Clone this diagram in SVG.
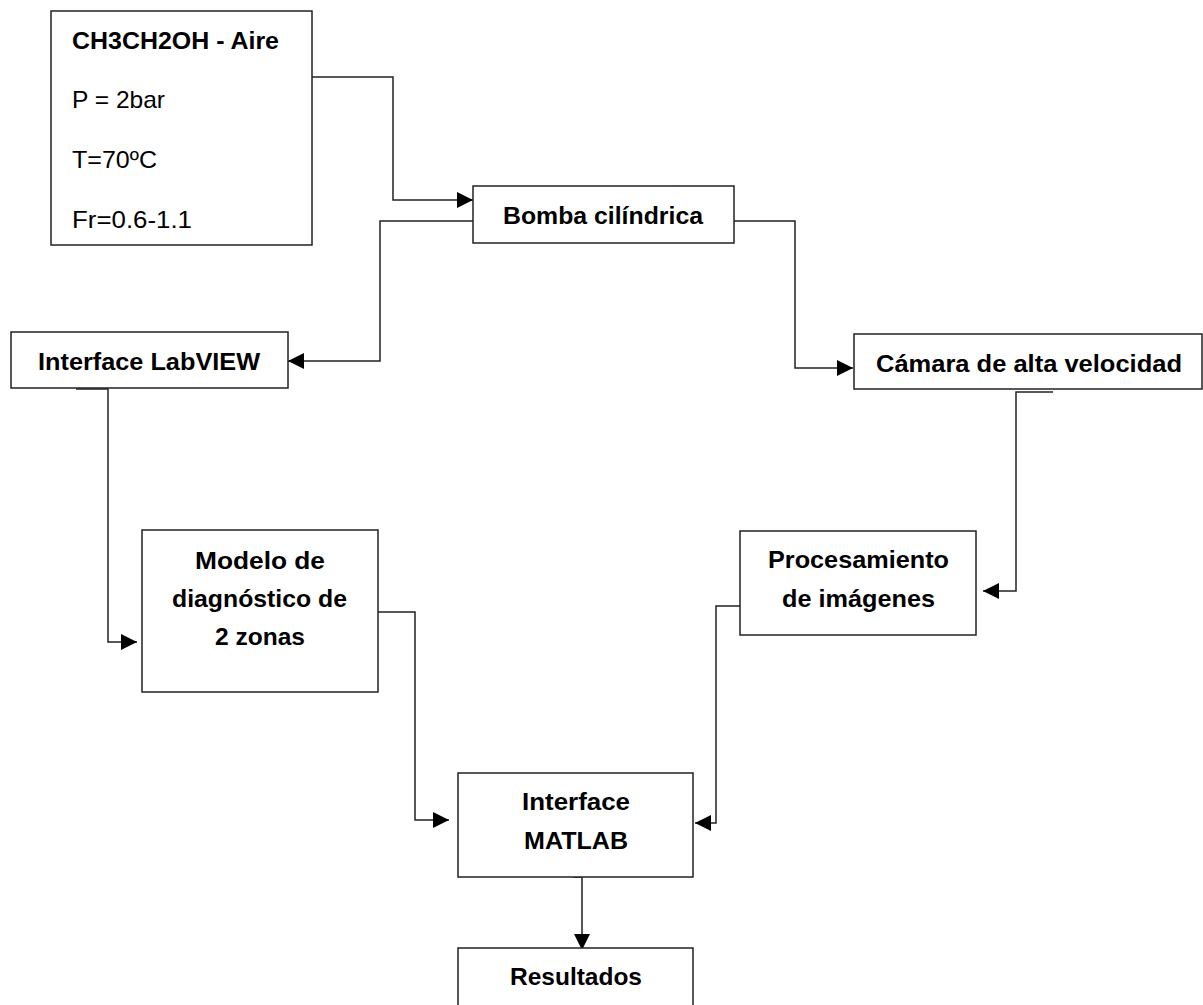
<svg xmlns="http://www.w3.org/2000/svg" width="1203" height="1005" viewBox="0 0 1203 1005">
<style>
.box{fill:#fff;stroke:#222;stroke-width:1.5}
.t{font-family:"Liberation Sans",Arial,sans-serif;font-size:24px;fill:#000}
.b{font-weight:bold}
.c{fill:none;stroke:#222;stroke-width:1.5}
</style>
<defs>
<marker id="ah" markerWidth="16" markerHeight="16" refX="16" refY="8" orient="auto" markerUnits="userSpaceOnUse">
<path d="M0,0 L16,8 L0,16 Z" fill="#000"/>
</marker>
</defs>
<rect width="1203" height="1005" fill="#fff"/>
<g id="connectors">
<path class="c" d="M312,77 H393 V200 H473" marker-end="url(#ah)"/>
<path class="c" d="M473,221 H380 V361 H288" marker-end="url(#ah)"/>
<path class="c" d="M734,221 H795 V368 H853" marker-end="url(#ah)"/>
<path class="c" d="M1053,392 H1016 V591 H983" marker-end="url(#ah)"/>
<path class="c" d="M76,389 H108 V642 H137" marker-end="url(#ah)"/>
<path class="c" d="M378,612 H415 V820 H449" marker-end="url(#ah)"/>
<path class="c" d="M740,606 H716 V823 H695" marker-end="url(#ah)"/>
<path class="c" d="M573,877 H582 V950" marker-end="url(#ah)"/>
</g>
<g id="n-mezcla">
<rect class="box" x="51" y="11" width="261" height="234"/>
<text class="t b" x="72" y="49" textLength="207" lengthAdjust="spacingAndGlyphs">CH3CH2OH - Aire</text>
<text class="t" x="72" y="108" textLength="93" lengthAdjust="spacingAndGlyphs">P = 2bar</text>
<text class="t" x="72" y="168" textLength="85" lengthAdjust="spacingAndGlyphs">T=70ºC</text>
<text class="t" x="72" y="228" textLength="120" lengthAdjust="spacingAndGlyphs">Fr=0.6-1.1</text>
</g>
<g id="n-bomba">
<rect class="box" x="473" y="186" width="261" height="57"/>
<text class="t b" x="503" y="224" textLength="200" lengthAdjust="spacingAndGlyphs">Bomba cilíndrica</text>
</g>
<g id="n-labview">
<rect class="box" x="11" y="332" width="277" height="56"/>
<text class="t b" x="38" y="370" textLength="222" lengthAdjust="spacingAndGlyphs">Interface LabVIEW</text>
</g>
<g id="n-camara">
<rect class="box" x="854" y="334" width="348" height="55"/>
<text class="t b" x="876" y="372" textLength="306" lengthAdjust="spacingAndGlyphs">Cámara de alta velocidad</text>
</g>
<g id="n-modelo">
<rect class="box" x="142" y="530" width="236" height="162"/>
<text class="t b" x="195" y="569" textLength="130" lengthAdjust="spacingAndGlyphs">Modelo de</text>
<text class="t b" x="172" y="607" textLength="175" lengthAdjust="spacingAndGlyphs">diagnóstico de</text>
<text class="t b" x="215" y="645" textLength="90" lengthAdjust="spacingAndGlyphs">2 zonas</text>
</g>
<g id="n-procesamiento">
<rect class="box" x="740" y="531" width="236" height="104"/>
<text class="t b" x="768" y="568" textLength="181" lengthAdjust="spacingAndGlyphs">Procesamiento</text>
<text class="t b" x="782" y="607" textLength="153" lengthAdjust="spacingAndGlyphs">de imágenes</text>
</g>
<g id="n-matlab">
<rect class="box" x="458" y="773" width="235" height="104"/>
<text class="t b" x="522" y="810" textLength="108" lengthAdjust="spacingAndGlyphs">Interface</text>
<text class="t b" x="524" y="849" textLength="104" lengthAdjust="spacingAndGlyphs">MATLAB</text>
</g>
<g id="n-resultados">
<rect class="box" x="458" y="948" width="235" height="70"/>
<text class="t b" x="510" y="985" textLength="132" lengthAdjust="spacingAndGlyphs">Resultados</text>
</g>
</svg>
